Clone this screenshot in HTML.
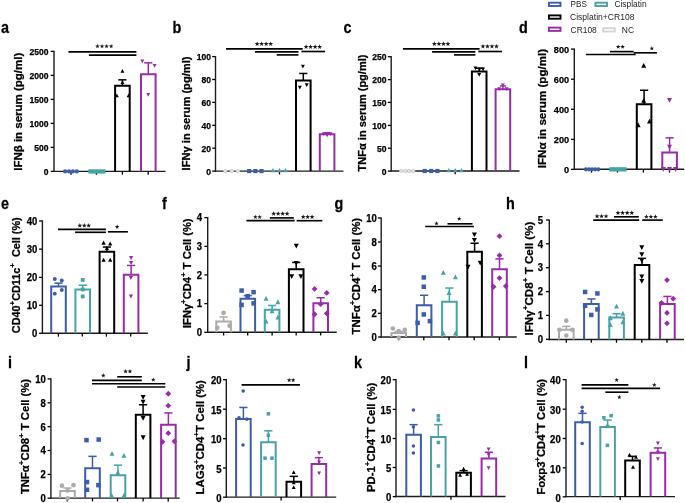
<!DOCTYPE html>
<html><head><meta charset="utf-8"><style>
html,body{margin:0;padding:0;background:#fff;overflow:hidden;}
svg{display:block;will-change:transform;}
text{font-family:"Liberation Sans",sans-serif;fill:#000;stroke:#000;stroke-width:0.25px;}
</style></head><body>
<svg width="685" height="503" viewBox="0 0 685 503">
<rect width="685" height="503" fill="#fff"/>
<text transform="translate(0.9 32.6) scale(0.96 1.06)" font-size="15" font-weight="bold">a</text>
<text transform="translate(21.6 111.75) rotate(-90)" x="0" y="0" font-size="10.0" font-weight="bold" text-anchor="middle" xml:space="preserve" textLength="118.1" lengthAdjust="spacingAndGlyphs">IFNβ in serum (pg/ml)</text>
<line x1="50.7" y1="51.4" x2="54" y2="51.4" stroke="#000000" stroke-width="1.3"/>
<text x="48.6" y="54.97" font-size="8.8" text-anchor="end" font-weight="bold" textLength="19" lengthAdjust="spacingAndGlyphs">2500</text>
<line x1="50.7" y1="75.4" x2="54" y2="75.4" stroke="#000000" stroke-width="1.3"/>
<text x="48.6" y="78.97" font-size="8.8" text-anchor="end" font-weight="bold" textLength="19" lengthAdjust="spacingAndGlyphs">2000</text>
<line x1="50.7" y1="99.4" x2="54" y2="99.4" stroke="#000000" stroke-width="1.3"/>
<text x="48.6" y="102.97" font-size="8.8" text-anchor="end" font-weight="bold" textLength="19" lengthAdjust="spacingAndGlyphs">1500</text>
<line x1="50.7" y1="123.4" x2="54" y2="123.4" stroke="#000000" stroke-width="1.3"/>
<text x="48.6" y="126.97" font-size="8.8" text-anchor="end" font-weight="bold" textLength="19" lengthAdjust="spacingAndGlyphs">1000</text>
<line x1="50.7" y1="147.4" x2="54" y2="147.4" stroke="#000000" stroke-width="1.3"/>
<text x="48.6" y="150.97" font-size="8.8" text-anchor="end" font-weight="bold" textLength="14.25" lengthAdjust="spacingAndGlyphs">500</text>
<line x1="50.7" y1="171.4" x2="54" y2="171.4" stroke="#000000" stroke-width="1.3"/>
<text x="48.6" y="174.97" font-size="8.8" text-anchor="end" font-weight="bold" textLength="4.75" lengthAdjust="spacingAndGlyphs">0</text>
<line x1="54" y1="50.8" x2="54" y2="172.1" stroke="#1c1c1c" stroke-width="1.4"/>
<line x1="53.3" y1="171.4" x2="165.5" y2="171.4" stroke="#1c1c1c" stroke-width="1.4"/>
<line x1="71" y1="171.4" x2="71" y2="174.7" stroke="#000000" stroke-width="1.3"/>
<line x1="96.4" y1="171.4" x2="96.4" y2="174.7" stroke="#000000" stroke-width="1.3"/>
<line x1="122.4" y1="171.4" x2="122.4" y2="174.7" stroke="#000000" stroke-width="1.3"/>
<line x1="148.2" y1="171.4" x2="148.2" y2="174.7" stroke="#000000" stroke-width="1.3"/>
<circle cx="65.1" cy="171.4" r="2.1" fill="#3d5daa"/>
<circle cx="69.0" cy="171.4" r="2.1" fill="#3d5daa"/>
<circle cx="72.9" cy="171.4" r="2.1" fill="#3d5daa"/>
<circle cx="76.8" cy="171.4" r="2.1" fill="#3d5daa"/>
<rect x="88.4" y="169.3" width="17.1" height="4.3" fill="#46a3a8"/>
<path d="M115.1 171.4V85.75H129.7V171.4" fill="none" stroke="#000000" stroke-width="2.0" stroke-linejoin="miter"/>
<line x1="122.4" y1="85.75" x2="122.4" y2="79.85" stroke="#000000" stroke-width="1.5"/>
<line x1="118.3" y1="79.85" x2="126.5" y2="79.85" stroke="#000000" stroke-width="1.5"/>
<path d="M122.4 68.9L124.35 72.65L120.45 72.65Z" fill="#000000"/>
<path d="M116.8 93.4L118.75 97.15L114.85 97.15Z" fill="#000000"/>
<path d="M128.6 93.4L130.55 97.15L126.65 97.15Z" fill="#000000"/>
<path d="M122.4 80.2L124.35 83.95L120.45 83.95Z" fill="#000000"/>
<path d="M141 171.4V74.25H155.6V171.4" fill="none" stroke="#992ba9" stroke-width="2.0" stroke-linejoin="miter"/>
<line x1="148.3" y1="74.25" x2="148.3" y2="62.85" stroke="#992ba9" stroke-width="1.5"/>
<line x1="144.2" y1="62.85" x2="152.4" y2="62.85" stroke="#992ba9" stroke-width="1.5"/>
<path d="M142.3 63.2L144.25 59.45L140.35 59.45Z" fill="#992ba9"/>
<path d="M154.6 67.7L156.55 63.95L152.65 63.95Z" fill="#992ba9"/>
<path d="M148.2 96.7L150.15 92.95L146.25 92.95Z" fill="#992ba9"/>
<line x1="68.4" y1="51.9" x2="136.4" y2="51.9" stroke="#000000" stroke-width="1.65"/>
<line x1="88.9" y1="55.1" x2="136.4" y2="55.1" stroke="#000000" stroke-width="1.65"/>
<polygon points="97.48,44 98.06,45.55 99.71,45.62 98.41,46.65 98.86,48.25 97.48,47.34 96.09,48.25 96.54,46.65 95.24,45.62 96.89,45.55" fill="#1a1a1a"/>
<polygon points="102.03,44 102.61,45.55 104.26,45.62 102.96,46.65 103.41,48.25 102.03,47.34 100.64,48.25 101.09,46.65 99.79,45.62 101.44,45.55" fill="#1a1a1a"/>
<polygon points="106.58,44 107.16,45.55 108.81,45.62 107.51,46.65 107.96,48.25 106.58,47.34 105.19,48.25 105.64,46.65 104.34,45.62 105.99,45.55" fill="#1a1a1a"/>
<polygon points="111.12,44 111.71,45.55 113.36,45.62 112.06,46.65 112.51,48.25 111.12,47.34 109.74,48.25 110.19,46.65 108.89,45.62 110.54,45.55" fill="#1a1a1a"/>
<text transform="translate(172.4 33) scale(0.96 1.06)" font-size="15" font-weight="bold">b</text>
<text transform="translate(190 113.45) rotate(-90)" x="0" y="0" font-size="10.0" font-weight="bold" text-anchor="middle" xml:space="preserve" textLength="113.9" lengthAdjust="spacingAndGlyphs">IFNγ in serum (pg/ml)</text>
<line x1="212.2" y1="56.6" x2="215.5" y2="56.6" stroke="#000000" stroke-width="1.3"/>
<text x="211" y="60.17" font-size="8.8" text-anchor="end" font-weight="bold" textLength="14.25" lengthAdjust="spacingAndGlyphs">100</text>
<line x1="212.2" y1="79.5" x2="215.5" y2="79.5" stroke="#000000" stroke-width="1.3"/>
<text x="211" y="83.07" font-size="8.8" text-anchor="end" font-weight="bold" textLength="9.5" lengthAdjust="spacingAndGlyphs">80</text>
<line x1="212.2" y1="102.4" x2="215.5" y2="102.4" stroke="#000000" stroke-width="1.3"/>
<text x="211" y="105.97" font-size="8.8" text-anchor="end" font-weight="bold" textLength="9.5" lengthAdjust="spacingAndGlyphs">60</text>
<line x1="212.2" y1="125.3" x2="215.5" y2="125.3" stroke="#000000" stroke-width="1.3"/>
<text x="211" y="128.87" font-size="8.8" text-anchor="end" font-weight="bold" textLength="9.5" lengthAdjust="spacingAndGlyphs">40</text>
<line x1="212.2" y1="148.2" x2="215.5" y2="148.2" stroke="#000000" stroke-width="1.3"/>
<text x="211" y="151.77" font-size="8.8" text-anchor="end" font-weight="bold" textLength="9.5" lengthAdjust="spacingAndGlyphs">20</text>
<line x1="212.2" y1="171.1" x2="215.5" y2="171.1" stroke="#000000" stroke-width="1.3"/>
<text x="211" y="174.67" font-size="8.8" text-anchor="end" font-weight="bold" textLength="4.75" lengthAdjust="spacingAndGlyphs">0</text>
<line x1="215.5" y1="56" x2="215.5" y2="171.8" stroke="#1c1c1c" stroke-width="1.4"/>
<line x1="214.8" y1="171.1" x2="343.5" y2="171.1" stroke="#1c1c1c" stroke-width="1.4"/>
<line x1="279.5" y1="171.1" x2="279.5" y2="174.4" stroke="#000000" stroke-width="1.3"/>
<circle cx="225.4" cy="171.1" r="1.8" fill="#e2e2e2" stroke="#cfcfcf" stroke-width="0.8"/>
<circle cx="231.7" cy="171.1" r="1.8" fill="#e2e2e2" stroke="#cfcfcf" stroke-width="0.8"/>
<circle cx="237.8" cy="171.1" r="1.8" fill="#e2e2e2" stroke="#cfcfcf" stroke-width="0.8"/>
<rect x="247.1" y="169" width="4.2" height="4.2" fill="#3d5daa"/>
<rect x="253.3" y="169" width="4.2" height="4.2" fill="#3d5daa"/>
<rect x="259.4" y="169" width="4.2" height="4.2" fill="#3d5daa"/>
<path d="M272.9 168.01L275.15 172.33L270.65 172.33Z" fill="#46a3a8"/>
<path d="M279.5 168.01L281.75 172.33L277.25 172.33Z" fill="#46a3a8"/>
<path d="M285.6 168.01L287.85 172.33L283.35 172.33Z" fill="#46a3a8"/>
<path d="M296 171.1V80.45H310.6V171.1" fill="none" stroke="#000000" stroke-width="2.0" stroke-linejoin="miter"/>
<line x1="303.3" y1="80.45" x2="303.3" y2="73.45" stroke="#000000" stroke-width="1.5"/>
<line x1="299.2" y1="73.45" x2="307.4" y2="73.45" stroke="#000000" stroke-width="1.5"/>
<path d="M302.9 68.6L304.85 64.85L300.95 64.85Z" fill="#000000"/>
<path d="M299.8 89.5L301.75 85.75L297.85 85.75Z" fill="#000000"/>
<path d="M306.7 87L308.65 83.25L304.75 83.25Z" fill="#000000"/>
<path d="M319.8 171.1V134.15H334.4V171.1" fill="none" stroke="#992ba9" stroke-width="2.0" stroke-linejoin="miter"/>
<line x1="327.1" y1="134.15" x2="327.1" y2="132.75" stroke="#992ba9" stroke-width="1.5"/>
<line x1="324.1" y1="132.75" x2="330.1" y2="132.75" stroke="#992ba9" stroke-width="1.5"/>
<path d="M323.8 135.9L325.75 132.15L321.85 132.15Z" fill="#992ba9"/>
<path d="M327.1 137.2L329.05 133.45L325.15 133.45Z" fill="#992ba9"/>
<path d="M330.4 135.9L332.35 132.15L328.45 132.15Z" fill="#992ba9"/>
<line x1="226" y1="48.9" x2="302.7" y2="48.9" stroke="#000000" stroke-width="1.65"/>
<line x1="254.9" y1="51.9" x2="298.5" y2="51.9" stroke="#000000" stroke-width="1.65"/>
<line x1="276.7" y1="54.9" x2="298.5" y2="54.9" stroke="#000000" stroke-width="1.65"/>
<line x1="301.4" y1="51.5" x2="325.1" y2="51.5" stroke="#000000" stroke-width="1.65"/>
<polygon points="257.15,41.38 257.77,43.04 259.55,43.12 258.16,44.23 258.63,45.94 257.15,44.96 255.67,45.94 256.14,44.23 254.75,43.12 256.53,43.04" fill="#1a1a1a"/>
<polygon points="261.65,41.38 262.27,43.04 264.05,43.12 262.66,44.23 263.13,45.94 261.65,44.96 260.17,45.94 260.64,44.23 259.25,43.12 261.03,43.04" fill="#1a1a1a"/>
<polygon points="266.15,41.38 266.77,43.04 268.55,43.12 267.16,44.23 267.63,45.94 266.15,44.96 264.67,45.94 265.14,44.23 263.75,43.12 265.53,43.04" fill="#1a1a1a"/>
<polygon points="270.65,41.38 271.27,43.04 273.05,43.12 271.66,44.23 272.13,45.94 270.65,44.96 269.17,45.94 269.64,44.23 268.25,43.12 270.03,43.04" fill="#1a1a1a"/>
<polygon points="306.06,44.37 306.69,46.04 308.47,46.12 307.07,47.23 307.55,48.95 306.06,47.96 304.57,48.95 305.05,47.23 303.65,46.12 305.44,46.04" fill="#1a1a1a"/>
<polygon points="310.59,44.37 311.21,46.04 313,46.12 311.6,47.23 312.08,48.95 310.59,47.96 309.1,48.95 309.58,47.23 308.18,46.12 309.96,46.04" fill="#1a1a1a"/>
<polygon points="315.11,44.37 315.74,46.04 317.52,46.12 316.12,47.23 316.6,48.95 315.11,47.96 313.62,48.95 314.1,47.23 312.7,46.12 314.49,46.04" fill="#1a1a1a"/>
<polygon points="319.64,44.37 320.26,46.04 322.05,46.12 320.65,47.23 321.13,48.95 319.64,47.96 318.15,48.95 318.63,47.23 317.23,46.12 319.01,46.04" fill="#1a1a1a"/>
<text transform="translate(343.5 33) scale(0.96 1.06)" font-size="15" font-weight="bold">c</text>
<text transform="translate(366 113) rotate(-90)" x="0" y="0" font-size="10.0" font-weight="bold" text-anchor="middle" xml:space="preserve" textLength="116.8" lengthAdjust="spacingAndGlyphs">TNFα in serum (pg/ml)</text>
<line x1="387.9" y1="56.7" x2="391.2" y2="56.7" stroke="#000000" stroke-width="1.3"/>
<text x="386.6" y="60.27" font-size="8.8" text-anchor="end" font-weight="bold" textLength="14.25" lengthAdjust="spacingAndGlyphs">250</text>
<line x1="387.9" y1="79.6" x2="391.2" y2="79.6" stroke="#000000" stroke-width="1.3"/>
<text x="386.6" y="83.17" font-size="8.8" text-anchor="end" font-weight="bold" textLength="14.25" lengthAdjust="spacingAndGlyphs">200</text>
<line x1="387.9" y1="102.4" x2="391.2" y2="102.4" stroke="#000000" stroke-width="1.3"/>
<text x="386.6" y="105.97" font-size="8.8" text-anchor="end" font-weight="bold" textLength="14.25" lengthAdjust="spacingAndGlyphs">150</text>
<line x1="387.9" y1="125.4" x2="391.2" y2="125.4" stroke="#000000" stroke-width="1.3"/>
<text x="386.6" y="128.97" font-size="8.8" text-anchor="end" font-weight="bold" textLength="14.25" lengthAdjust="spacingAndGlyphs">100</text>
<line x1="387.9" y1="148.2" x2="391.2" y2="148.2" stroke="#000000" stroke-width="1.3"/>
<text x="386.6" y="151.77" font-size="8.8" text-anchor="end" font-weight="bold" textLength="9.5" lengthAdjust="spacingAndGlyphs">50</text>
<line x1="387.9" y1="171.1" x2="391.2" y2="171.1" stroke="#000000" stroke-width="1.3"/>
<text x="386.6" y="174.67" font-size="8.8" text-anchor="end" font-weight="bold" textLength="4.75" lengthAdjust="spacingAndGlyphs">0</text>
<line x1="391.2" y1="56.1" x2="391.2" y2="171.7" stroke="#1c1c1c" stroke-width="1.4"/>
<line x1="390.5" y1="171" x2="519.5" y2="171" stroke="#1c1c1c" stroke-width="1.4"/>
<line x1="455.2" y1="171" x2="455.2" y2="174.3" stroke="#000000" stroke-width="1.3"/>
<circle cx="401.3" cy="171" r="1.8" fill="#e2e2e2" stroke="#cfcfcf" stroke-width="0.8"/>
<circle cx="405.2" cy="171" r="1.8" fill="#e2e2e2" stroke="#cfcfcf" stroke-width="0.8"/>
<circle cx="409.3" cy="171" r="1.8" fill="#e2e2e2" stroke="#cfcfcf" stroke-width="0.8"/>
<circle cx="413.2" cy="171" r="1.8" fill="#e2e2e2" stroke="#cfcfcf" stroke-width="0.8"/>
<rect x="422.59999999999997" y="168.9" width="4.2" height="4.2" fill="#3d5daa"/>
<rect x="429.09999999999997" y="168.9" width="4.2" height="4.2" fill="#3d5daa"/>
<rect x="435.29999999999995" y="168.9" width="4.2" height="4.2" fill="#3d5daa"/>
<path d="M448.8 167.91L451.05 172.23L446.55 172.23Z" fill="#46a3a8"/>
<path d="M455.1 167.91L457.35 172.23L452.85 172.23Z" fill="#46a3a8"/>
<path d="M461.5 167.91L463.75 172.23L459.25 172.23Z" fill="#46a3a8"/>
<path d="M471.9 171V71.55H486.5V171" fill="none" stroke="#000000" stroke-width="2.0" stroke-linejoin="miter"/>
<line x1="479.2" y1="71.55" x2="479.2" y2="68.25" stroke="#000000" stroke-width="1.5"/>
<line x1="475.1" y1="68.25" x2="483.3" y2="68.25" stroke="#000000" stroke-width="1.5"/>
<path d="M475.5 70.3L477.45 66.55L473.55 66.55Z" fill="#000000"/>
<path d="M479.5 71.2L481.45 67.45L477.55 67.45Z" fill="#000000"/>
<path d="M483 71.2L484.95 67.45L481.05 67.45Z" fill="#000000"/>
<path d="M479.2 76.7L481.15 72.95L477.25 72.95Z" fill="#000000"/>
<path d="M495.6 171V89.15H510.2V171" fill="none" stroke="#992ba9" stroke-width="2.0" stroke-linejoin="miter"/>
<line x1="502.9" y1="89.15" x2="502.9" y2="85.95" stroke="#992ba9" stroke-width="1.5"/>
<line x1="499.9" y1="85.95" x2="505.9" y2="85.95" stroke="#992ba9" stroke-width="1.5"/>
<path d="M499.2 90.9L501.15 87.15L497.25 87.15Z" fill="#992ba9"/>
<path d="M502.9 87.2L504.85 83.45L500.95 83.45Z" fill="#992ba9"/>
<path d="M506.6 90.9L508.55 87.15L504.65 87.15Z" fill="#992ba9"/>
<line x1="402.9" y1="48.9" x2="479.6" y2="48.9" stroke="#000000" stroke-width="1.65"/>
<line x1="432.1" y1="51.9" x2="475.4" y2="51.9" stroke="#000000" stroke-width="1.65"/>
<line x1="454" y1="54.9" x2="475.4" y2="54.9" stroke="#000000" stroke-width="1.65"/>
<line x1="478.3" y1="51.5" x2="502" y2="51.5" stroke="#000000" stroke-width="1.65"/>
<polygon points="434.36,41.37 434.99,43.04 436.77,43.12 435.37,44.23 435.85,45.95 434.36,44.96 432.87,45.95 433.35,44.23 431.95,43.12 433.74,43.04" fill="#1a1a1a"/>
<polygon points="438.89,41.37 439.51,43.04 441.3,43.12 439.9,44.23 440.38,45.95 438.89,44.96 437.4,45.95 437.88,44.23 436.48,43.12 438.26,43.04" fill="#1a1a1a"/>
<polygon points="443.41,41.37 444.04,43.04 445.82,43.12 444.42,44.23 444.9,45.95 443.41,44.96 441.92,45.95 442.4,44.23 441,43.12 442.79,43.04" fill="#1a1a1a"/>
<polygon points="447.94,41.37 448.56,43.04 450.35,43.12 448.95,44.23 449.43,45.95 447.94,44.96 446.45,45.95 446.93,44.23 445.53,43.12 447.31,43.04" fill="#1a1a1a"/>
<polygon points="482.95,43.88 483.57,45.54 485.35,45.62 483.96,46.73 484.43,48.44 482.95,47.46 481.47,48.44 481.94,46.73 480.55,45.62 482.33,45.54" fill="#1a1a1a"/>
<polygon points="487.45,43.88 488.07,45.54 489.85,45.62 488.46,46.73 488.93,48.44 487.45,47.46 485.97,48.44 486.44,46.73 485.05,45.62 486.83,45.54" fill="#1a1a1a"/>
<polygon points="491.95,43.88 492.57,45.54 494.35,45.62 492.96,46.73 493.43,48.44 491.95,47.46 490.47,48.44 490.94,46.73 489.55,45.62 491.33,45.54" fill="#1a1a1a"/>
<polygon points="496.45,43.88 497.07,45.54 498.85,45.62 497.46,46.73 497.93,48.44 496.45,47.46 494.97,48.44 495.44,46.73 494.05,45.62 495.83,45.54" fill="#1a1a1a"/>
<text transform="translate(518.9 32.6) scale(0.96 1.06)" font-size="15" font-weight="bold">d</text>
<text transform="translate(546 108.55) rotate(-90)" x="0" y="0" font-size="10.0" font-weight="bold" text-anchor="middle" xml:space="preserve" textLength="119.3" lengthAdjust="spacingAndGlyphs">IFNα in serum (pg/ml)</text>
<line x1="571" y1="49.1" x2="574.3" y2="49.1" stroke="#000000" stroke-width="1.3"/>
<text x="569.1" y="52.85" font-size="9.3" text-anchor="end" font-weight="bold" textLength="15.3" lengthAdjust="spacingAndGlyphs">800</text>
<line x1="571" y1="79.2" x2="574.3" y2="79.2" stroke="#000000" stroke-width="1.3"/>
<text x="569.1" y="82.95" font-size="9.3" text-anchor="end" font-weight="bold" textLength="15.3" lengthAdjust="spacingAndGlyphs">600</text>
<line x1="571" y1="109.3" x2="574.3" y2="109.3" stroke="#000000" stroke-width="1.3"/>
<text x="569.1" y="113.05" font-size="9.3" text-anchor="end" font-weight="bold" textLength="15.3" lengthAdjust="spacingAndGlyphs">400</text>
<line x1="571" y1="139.4" x2="574.3" y2="139.4" stroke="#000000" stroke-width="1.3"/>
<text x="569.1" y="143.15" font-size="9.3" text-anchor="end" font-weight="bold" textLength="15.3" lengthAdjust="spacingAndGlyphs">200</text>
<line x1="571" y1="169.4" x2="574.3" y2="169.4" stroke="#000000" stroke-width="1.3"/>
<text x="569.1" y="173.15" font-size="9.3" text-anchor="end" font-weight="bold" textLength="5.1" lengthAdjust="spacingAndGlyphs">0</text>
<line x1="574.3" y1="48.5" x2="574.3" y2="170" stroke="#1c1c1c" stroke-width="1.4"/>
<line x1="573.6" y1="169.3" x2="684.2" y2="169.3" stroke="#1c1c1c" stroke-width="1.4"/>
<line x1="591.5" y1="169.3" x2="591.5" y2="172.6" stroke="#000000" stroke-width="1.3"/>
<line x1="617.5" y1="169.3" x2="617.5" y2="172.6" stroke="#000000" stroke-width="1.3"/>
<line x1="643.4" y1="169.3" x2="643.4" y2="172.6" stroke="#000000" stroke-width="1.3"/>
<line x1="669.5" y1="169.3" x2="669.5" y2="172.6" stroke="#000000" stroke-width="1.3"/>
<circle cx="585.9" cy="169.3" r="2.1" fill="#3d5daa"/>
<circle cx="589.0" cy="169.3" r="2.1" fill="#3d5daa"/>
<circle cx="592.1" cy="169.3" r="2.1" fill="#3d5daa"/>
<circle cx="595.2" cy="169.3" r="2.1" fill="#3d5daa"/>
<circle cx="598.3" cy="169.3" r="2.1" fill="#3d5daa"/>
<rect x="609.3" y="167.2" width="17.2" height="4.3" fill="#46a3a8"/>
<path d="M636.8 169.3V104.35H651.4V169.3" fill="none" stroke="#000000" stroke-width="2.0" stroke-linejoin="miter"/>
<line x1="644.1" y1="104.35" x2="644.1" y2="90.25" stroke="#000000" stroke-width="1.5"/>
<line x1="640" y1="90.25" x2="648.2" y2="90.25" stroke="#000000" stroke-width="1.5"/>
<path d="M643.7 62.97L646.2 67.77L641.2 67.77Z" fill="#000000"/>
<path d="M638.1 122.37L640.6 127.17L635.6 127.17Z" fill="#000000"/>
<path d="M649.5 118.77L652 123.57L647 123.57Z" fill="#000000"/>
<path d="M643.7 98.07L646.2 102.87L641.2 102.87Z" fill="#000000"/>
<path d="M662.3 169.3V152.45H676.9V169.3" fill="none" stroke="#992ba9" stroke-width="2.0" stroke-linejoin="miter"/>
<line x1="669.6" y1="152.45" x2="669.6" y2="137.85" stroke="#992ba9" stroke-width="1.5"/>
<line x1="665.5" y1="137.85" x2="673.7" y2="137.85" stroke="#992ba9" stroke-width="1.5"/>
<path d="M669.5 102.73L672 97.93L667 97.93Z" fill="#992ba9"/>
<path d="M669.5 149.53L672 144.73L667 144.73Z" fill="#992ba9"/>
<path d="M663.4 171.73L665.9 166.93L660.9 166.93Z" fill="#992ba9"/>
<path d="M669.5 171.73L672 166.93L667 166.93Z" fill="#992ba9"/>
<path d="M675.6 171.73L678.1 166.93L673.1 166.93Z" fill="#992ba9"/>
<line x1="585.9" y1="54.5" x2="635.7" y2="54.5" stroke="#000000" stroke-width="1.65"/>
<line x1="610" y1="51.6" x2="633.6" y2="51.6" stroke="#000000" stroke-width="1.65"/>
<line x1="633.6" y1="52.8" x2="656.9" y2="52.8" stroke="#000000" stroke-width="1.65"/>
<polygon points="618.2,44.47 618.79,46.04 620.46,46.11 619.15,47.16 619.6,48.78 618.2,47.85 616.8,48.78 617.25,47.16 615.94,46.11 617.61,46.04" fill="#1a1a1a"/>
<polygon points="622.6,44.47 623.19,46.04 624.86,46.11 623.55,47.16 624,48.78 622.6,47.85 621.2,48.78 621.65,47.16 620.34,46.11 622.01,46.04" fill="#1a1a1a"/>
<polygon points="651.85,46.1 652.43,47.65 654.08,47.72 652.79,48.75 653.23,50.35 651.85,49.44 650.47,50.35 650.91,48.75 649.62,47.72 651.27,47.65" fill="#1a1a1a"/>
<rect x="548.9" y="2.7" width="11.6" height="3.3" fill="#fff" stroke="#3d5daa" stroke-width="1.9"/>
<text x="570.6" y="7.3" font-size="8.8" style="fill:#1e1e1e;stroke:none" textLength="16.3" lengthAdjust="spacingAndGlyphs">PBS</text>
<rect x="595.4" y="2.7" width="11.6" height="3.3" fill="#fff" stroke="#46a3a8" stroke-width="1.9"/>
<text x="614.4" y="7.3" font-size="8.8" style="fill:#1e1e1e;stroke:none" textLength="32.2" lengthAdjust="spacingAndGlyphs">Cisplatin</text>
<rect x="548.9" y="15.4" width="11.6" height="3.3" fill="#fff" stroke="#000000" stroke-width="1.9"/>
<text x="570.0" y="20.0" font-size="8.8" style="fill:#1e1e1e;stroke:none" textLength="64.4" lengthAdjust="spacingAndGlyphs">Cisplatin+CR108</text>
<rect x="548.9" y="27.6" width="11.6" height="3.3" fill="#fff" stroke="#992ba9" stroke-width="1.9"/>
<text x="570.6" y="32.6" font-size="8.8" style="fill:#1e1e1e;stroke:none" textLength="26.2" lengthAdjust="spacingAndGlyphs">CR108</text>
<rect x="603.2" y="28.2" width="11.6" height="3.3" fill="#fff" stroke="#d4d4d4" stroke-width="1.9"/>
<text x="621.8" y="32.6" font-size="8.8" style="fill:#1e1e1e;stroke:none" textLength="12.2" lengthAdjust="spacingAndGlyphs">NC</text>
<text transform="translate(0.9 209) scale(0.96 1.06)" font-size="15" font-weight="bold">e</text>
<text transform="translate(20.3 275.25) rotate(-90)" x="0" y="0" font-size="10.0" font-weight="bold" text-anchor="middle" xml:space="preserve" textLength="115.9" lengthAdjust="spacingAndGlyphs">CD40<tspan font-size="7.2" dy="-5">+</tspan><tspan dy="5">​</tspan>CD11c<tspan font-size="7.2" dy="-5">+</tspan><tspan dy="5">​</tspan>  Cell (%)</text>
<line x1="39.1" y1="221" x2="42.4" y2="221" stroke="#000000" stroke-width="1.3"/>
<text x="37.4" y="224.7" font-size="10.0" text-anchor="end" font-weight="bold" textLength="10.6" lengthAdjust="spacingAndGlyphs">40</text>
<line x1="39.1" y1="249.1" x2="42.4" y2="249.1" stroke="#000000" stroke-width="1.3"/>
<text x="37.4" y="252.8" font-size="10.0" text-anchor="end" font-weight="bold" textLength="10.6" lengthAdjust="spacingAndGlyphs">30</text>
<line x1="39.1" y1="277.4" x2="42.4" y2="277.4" stroke="#000000" stroke-width="1.3"/>
<text x="37.4" y="281.1" font-size="10.0" text-anchor="end" font-weight="bold" textLength="10.6" lengthAdjust="spacingAndGlyphs">20</text>
<line x1="39.1" y1="305.3" x2="42.4" y2="305.3" stroke="#000000" stroke-width="1.3"/>
<text x="37.4" y="309" font-size="10.0" text-anchor="end" font-weight="bold" textLength="10.6" lengthAdjust="spacingAndGlyphs">10</text>
<line x1="39.1" y1="333.3" x2="42.4" y2="333.3" stroke="#000000" stroke-width="1.3"/>
<text x="37.4" y="337" font-size="10.0" text-anchor="end" font-weight="bold" textLength="5.3" lengthAdjust="spacingAndGlyphs">0</text>
<line x1="42.4" y1="220.4" x2="42.4" y2="334" stroke="#1c1c1c" stroke-width="1.4"/>
<line x1="41.7" y1="333.3" x2="147.8" y2="333.3" stroke="#1c1c1c" stroke-width="1.4"/>
<line x1="58.4" y1="333.3" x2="58.4" y2="336.6" stroke="#000000" stroke-width="1.3"/>
<line x1="82.3" y1="333.3" x2="82.3" y2="336.6" stroke="#000000" stroke-width="1.3"/>
<line x1="106.4" y1="333.3" x2="106.4" y2="336.6" stroke="#000000" stroke-width="1.3"/>
<line x1="130.7" y1="333.3" x2="130.7" y2="336.6" stroke="#000000" stroke-width="1.3"/>
<path d="M51.2 333.3V286.55H65.8V333.3" fill="none" stroke="#3d5daa" stroke-width="2.0" stroke-linejoin="miter"/>
<line x1="58.5" y1="286.55" x2="58.5" y2="283.15" stroke="#3d5daa" stroke-width="1.5"/>
<line x1="54.4" y1="283.15" x2="62.6" y2="283.15" stroke="#3d5daa" stroke-width="1.5"/>
<circle cx="54.8" cy="278.95" r="1.95" fill="#3d5daa"/>
<circle cx="61.8" cy="280.55" r="1.95" fill="#3d5daa"/>
<circle cx="54.8" cy="293.65" r="1.95" fill="#3d5daa"/>
<circle cx="61.8" cy="289.95" r="1.95" fill="#3d5daa"/>
<path d="M75.4 333.3V289.45H90V333.3" fill="none" stroke="#46a3a8" stroke-width="2.0" stroke-linejoin="miter"/>
<line x1="82.7" y1="289.45" x2="82.7" y2="285.25" stroke="#46a3a8" stroke-width="1.5"/>
<line x1="78.6" y1="285.25" x2="86.8" y2="285.25" stroke="#46a3a8" stroke-width="1.5"/>
<rect x="80.79" y="278.04" width="3.8249999999999997" height="3.8249999999999997" fill="#46a3a8"/>
<rect x="80.79" y="287.54" width="3.8249999999999997" height="3.8249999999999997" fill="#46a3a8"/>
<rect x="80.79" y="294.54" width="3.8249999999999997" height="3.8249999999999997" fill="#46a3a8"/>
<path d="M99.6 333.3V251.65H114.2V333.3" fill="none" stroke="#000000" stroke-width="2.0" stroke-linejoin="miter"/>
<line x1="106.9" y1="251.65" x2="106.9" y2="247.05" stroke="#000000" stroke-width="1.5"/>
<line x1="102.8" y1="247.05" x2="111" y2="247.05" stroke="#000000" stroke-width="1.5"/>
<path d="M103.6 240.6L105.72 244.68L101.47 244.68Z" fill="#000000"/>
<path d="M110.2 241.4L112.33 245.48L108.08 245.48Z" fill="#000000"/>
<path d="M103.6 257.7L105.72 261.78L101.47 261.78Z" fill="#000000"/>
<path d="M110.2 257.7L112.33 261.78L108.08 261.78Z" fill="#000000"/>
<path d="M106.9 246L109.03 250.08L104.78 250.08Z" fill="#000000"/>
<path d="M123.8 333.3V274.85H138.4V333.3" fill="none" stroke="#992ba9" stroke-width="2.0" stroke-linejoin="miter"/>
<line x1="131.1" y1="274.85" x2="131.1" y2="265.45" stroke="#992ba9" stroke-width="1.5"/>
<line x1="127" y1="265.45" x2="135.2" y2="265.45" stroke="#992ba9" stroke-width="1.5"/>
<path d="M131.1 260L133.22 255.92L128.97 255.92Z" fill="#992ba9"/>
<path d="M131.1 265.1L133.22 261.02L128.97 261.02Z" fill="#992ba9"/>
<path d="M130.9 280.1L133.03 276.02L128.78 276.02Z" fill="#992ba9"/>
<path d="M130.9 298.5L133.03 294.42L128.78 294.42Z" fill="#992ba9"/>
<line x1="58" y1="229.4" x2="105.9" y2="229.4" stroke="#000000" stroke-width="1.65"/>
<line x1="75.1" y1="232.3" x2="105.9" y2="232.3" stroke="#000000" stroke-width="1.65"/>
<line x1="107.9" y1="231.8" x2="127.9" y2="231.8" stroke="#000000" stroke-width="1.65"/>
<polygon points="79.82,223.12 80.43,224.76 82.18,224.83 80.81,225.92 81.28,227.61 79.82,226.64 78.36,227.61 78.82,225.92 77.46,224.83 79.2,224.76" fill="#1a1a1a"/>
<polygon points="84.25,223.12 84.86,224.76 86.61,224.83 85.24,225.92 85.71,227.61 84.25,226.64 82.79,227.61 83.26,225.92 81.89,224.83 83.64,224.76" fill="#1a1a1a"/>
<polygon points="88.68,223.12 89.3,224.76 91.04,224.83 89.68,225.92 90.14,227.61 88.68,226.64 87.22,227.61 87.69,225.92 86.32,224.83 88.07,224.76" fill="#1a1a1a"/>
<polygon points="117.15,224.55 117.73,226.1 119.38,226.17 118.09,227.2 118.53,228.8 117.15,227.89 115.77,228.8 116.21,227.2 114.92,226.17 116.57,226.1" fill="#1a1a1a"/>
<text transform="translate(161.9 209) scale(0.96 1.06)" font-size="15" font-weight="bold">f</text>
<text transform="translate(190.8 273.25) rotate(-90)" x="0" y="0" font-size="10.0" font-weight="bold" text-anchor="middle" xml:space="preserve" textLength="109.5" lengthAdjust="spacingAndGlyphs">IFNγ<tspan font-size="7.2" dy="-5">+</tspan><tspan dy="5">​</tspan>CD4<tspan font-size="7.2" dy="-5">+</tspan><tspan dy="5">​</tspan> T Cell (%)</text>
<line x1="204.4" y1="217.6" x2="207.7" y2="217.6" stroke="#000000" stroke-width="1.3"/>
<text x="202" y="221.3" font-size="10.0" text-anchor="end" font-weight="bold" textLength="5.3" lengthAdjust="spacingAndGlyphs">4</text>
<line x1="204.4" y1="246.4" x2="207.7" y2="246.4" stroke="#000000" stroke-width="1.3"/>
<text x="202" y="250.1" font-size="10.0" text-anchor="end" font-weight="bold" textLength="5.3" lengthAdjust="spacingAndGlyphs">3</text>
<line x1="204.4" y1="274.9" x2="207.7" y2="274.9" stroke="#000000" stroke-width="1.3"/>
<text x="202" y="278.6" font-size="10.0" text-anchor="end" font-weight="bold" textLength="5.3" lengthAdjust="spacingAndGlyphs">2</text>
<line x1="204.4" y1="303.6" x2="207.7" y2="303.6" stroke="#000000" stroke-width="1.3"/>
<text x="202" y="307.3" font-size="10.0" text-anchor="end" font-weight="bold" textLength="5.3" lengthAdjust="spacingAndGlyphs">1</text>
<line x1="204.4" y1="332.3" x2="207.7" y2="332.3" stroke="#000000" stroke-width="1.3"/>
<text x="202" y="336" font-size="10.0" text-anchor="end" font-weight="bold" textLength="5.3" lengthAdjust="spacingAndGlyphs">0</text>
<line x1="207.7" y1="217" x2="207.7" y2="332.9" stroke="#1c1c1c" stroke-width="1.4"/>
<line x1="207" y1="332.2" x2="336.8" y2="332.2" stroke="#1c1c1c" stroke-width="1.4"/>
<line x1="223.6" y1="332.2" x2="223.6" y2="335.5" stroke="#000000" stroke-width="1.3"/>
<line x1="247.7" y1="332.2" x2="247.7" y2="335.5" stroke="#000000" stroke-width="1.3"/>
<line x1="272.1" y1="332.2" x2="272.1" y2="335.5" stroke="#000000" stroke-width="1.3"/>
<line x1="296.2" y1="332.2" x2="296.2" y2="335.5" stroke="#000000" stroke-width="1.3"/>
<line x1="320.7" y1="332.2" x2="320.7" y2="335.5" stroke="#000000" stroke-width="1.3"/>
<path d="M216.3 332.2V321.55H230.9V332.2" fill="none" stroke="#ababab" stroke-width="2.0" stroke-linejoin="miter"/>
<line x1="223.6" y1="321.55" x2="223.6" y2="316.95" stroke="#ababab" stroke-width="1.5"/>
<line x1="219.5" y1="316.95" x2="227.7" y2="316.95" stroke="#ababab" stroke-width="1.5"/>
<circle cx="223.6" cy="312.85" r="2.3" fill="#ababab"/>
<circle cx="217.4" cy="327.75" r="2.3" fill="#ababab"/>
<circle cx="229.6" cy="325.65" r="2.3" fill="#ababab"/>
<path d="M240.5 332.2V298.85H255.1V332.2" fill="none" stroke="#3d5daa" stroke-width="2.0" stroke-linejoin="miter"/>
<line x1="247.8" y1="298.85" x2="247.8" y2="295.65" stroke="#3d5daa" stroke-width="1.5"/>
<line x1="243.7" y1="295.65" x2="251.9" y2="295.65" stroke="#3d5daa" stroke-width="1.5"/>
<rect x="239.35" y="288.3" width="4.5" height="4.5" fill="#3d5daa"/>
<rect x="251.35" y="289.9" width="4.5" height="4.5" fill="#3d5daa"/>
<rect x="239.35" y="302.7" width="4.5" height="4.5" fill="#3d5daa"/>
<rect x="251.35" y="301.1" width="4.5" height="4.5" fill="#3d5daa"/>
<rect x="245.45" y="293.9" width="4.5" height="4.5" fill="#3d5daa"/>
<path d="M264.8 332.2V309.75H279.4V332.2" fill="none" stroke="#46a3a8" stroke-width="2.0" stroke-linejoin="miter"/>
<line x1="272.1" y1="309.75" x2="272.1" y2="305.45" stroke="#46a3a8" stroke-width="1.5"/>
<line x1="268" y1="305.45" x2="276.2" y2="305.45" stroke="#46a3a8" stroke-width="1.5"/>
<path d="M266.1 295.97L268.6 300.77L263.6 300.77Z" fill="#46a3a8"/>
<path d="M277.9 299.37L280.4 304.17L275.4 304.17Z" fill="#46a3a8"/>
<path d="M266.1 318.67L268.6 323.47L263.6 323.47Z" fill="#46a3a8"/>
<path d="M277.9 314.67L280.4 319.47L275.4 319.47Z" fill="#46a3a8"/>
<path d="M272.1 308.57L274.6 313.37L269.6 313.37Z" fill="#46a3a8"/>
<path d="M288.9 332.2V269.25H303.5V332.2" fill="none" stroke="#000000" stroke-width="2.0" stroke-linejoin="miter"/>
<line x1="296.2" y1="269.25" x2="296.2" y2="262.45" stroke="#000000" stroke-width="1.5"/>
<line x1="292.1" y1="262.45" x2="300.3" y2="262.45" stroke="#000000" stroke-width="1.5"/>
<path d="M296.3 248.43L298.8 243.63L293.8 243.63Z" fill="#000000"/>
<path d="M296.3 265.83L298.8 261.03L293.8 261.03Z" fill="#000000"/>
<path d="M291.7 278.93L294.2 274.13L289.2 274.13Z" fill="#000000"/>
<path d="M300.9 278.93L303.4 274.13L298.4 274.13Z" fill="#000000"/>
<path d="M313.4 332.2V303.35H328V332.2" fill="none" stroke="#992ba9" stroke-width="2.0" stroke-linejoin="miter"/>
<line x1="320.7" y1="303.35" x2="320.7" y2="297.75" stroke="#992ba9" stroke-width="1.5"/>
<line x1="316.6" y1="297.75" x2="324.8" y2="297.75" stroke="#992ba9" stroke-width="1.5"/>
<path d="M314.6 286.05L317.5 288.95L314.6 291.85L311.7 288.95Z" fill="#992ba9"/>
<path d="M326.7 290.05L329.6 292.95L326.7 295.85L323.8 292.95Z" fill="#992ba9"/>
<path d="M314.6 311.35L317.5 314.25L314.6 317.15L311.7 314.25Z" fill="#992ba9"/>
<path d="M326.7 310.55L329.6 313.45L326.7 316.35L323.8 313.45Z" fill="#992ba9"/>
<path d="M320.7 301.25L323.6 304.15L320.7 307.05L317.8 304.15Z" fill="#992ba9"/>
<line x1="246.4" y1="220.6" x2="294.6" y2="220.6" stroke="#000000" stroke-width="1.65"/>
<line x1="269.8" y1="217.9" x2="293.8" y2="217.9" stroke="#000000" stroke-width="1.65"/>
<line x1="296.6" y1="220.7" x2="322.3" y2="220.7" stroke="#000000" stroke-width="1.65"/>
<polygon points="255.4,214.65 255.98,216.2 257.64,216.27 256.34,217.31 256.78,218.9 255.4,217.99 254.02,218.9 254.46,217.31 253.16,216.27 254.82,216.2" fill="#1a1a1a"/>
<polygon points="259.6,214.65 260.18,216.2 261.84,216.27 260.54,217.31 260.98,218.9 259.6,217.99 258.22,218.9 258.66,217.31 257.36,216.27 259.02,216.2" fill="#1a1a1a"/>
<polygon points="273.65,211.18 274.27,212.84 276.05,212.92 274.66,214.03 275.13,215.74 273.65,214.76 272.17,215.74 272.64,214.03 271.25,212.92 273.03,212.84" fill="#1a1a1a"/>
<polygon points="278.15,211.18 278.77,212.84 280.55,212.92 279.16,214.03 279.63,215.74 278.15,214.76 276.67,215.74 277.14,214.03 275.75,212.92 277.53,212.84" fill="#1a1a1a"/>
<polygon points="282.65,211.18 283.27,212.84 285.05,212.92 283.66,214.03 284.13,215.74 282.65,214.76 281.17,215.74 281.64,214.03 280.25,212.92 282.03,212.84" fill="#1a1a1a"/>
<polygon points="287.15,211.18 287.77,212.84 289.55,212.92 288.16,214.03 288.63,215.74 287.15,214.76 285.67,215.74 286.14,214.03 284.75,212.92 286.53,212.84" fill="#1a1a1a"/>
<polygon points="303.22,214.42 303.83,216.06 305.58,216.13 304.21,217.22 304.68,218.91 303.22,217.94 301.76,218.91 302.22,217.22 300.86,216.13 302.6,216.06" fill="#1a1a1a"/>
<polygon points="307.65,214.42 308.26,216.06 310.01,216.13 308.64,217.22 309.11,218.91 307.65,217.94 306.19,218.91 306.66,217.22 305.29,216.13 307.04,216.06" fill="#1a1a1a"/>
<polygon points="312.08,214.42 312.7,216.06 314.44,216.13 313.08,217.22 313.54,218.91 312.08,217.94 310.62,218.91 311.09,217.22 309.72,216.13 311.47,216.06" fill="#1a1a1a"/>
<text transform="translate(334.5 209) scale(0.96 1.06)" font-size="15" font-weight="bold">g</text>
<text transform="translate(359.6 276.15) rotate(-90)" x="0" y="0" font-size="10.0" font-weight="bold" text-anchor="middle" xml:space="preserve" textLength="116.5" lengthAdjust="spacingAndGlyphs">TNFα<tspan font-size="7.2" dy="-5">+</tspan><tspan dy="5">​</tspan>CD4<tspan font-size="7.2" dy="-5">+</tspan><tspan dy="5">​</tspan> T Cell (%)</text>
<line x1="377.9" y1="218" x2="381.2" y2="218" stroke="#000000" stroke-width="1.3"/>
<text x="376.9" y="221.7" font-size="10.0" text-anchor="end" font-weight="bold" textLength="10.6" lengthAdjust="spacingAndGlyphs">10</text>
<line x1="377.9" y1="242" x2="381.2" y2="242" stroke="#000000" stroke-width="1.3"/>
<text x="376.9" y="245.7" font-size="10.0" text-anchor="end" font-weight="bold" textLength="5.3" lengthAdjust="spacingAndGlyphs">8</text>
<line x1="377.9" y1="266" x2="381.2" y2="266" stroke="#000000" stroke-width="1.3"/>
<text x="376.9" y="269.7" font-size="10.0" text-anchor="end" font-weight="bold" textLength="5.3" lengthAdjust="spacingAndGlyphs">6</text>
<line x1="377.9" y1="289.7" x2="381.2" y2="289.7" stroke="#000000" stroke-width="1.3"/>
<text x="376.9" y="293.4" font-size="10.0" text-anchor="end" font-weight="bold" textLength="5.3" lengthAdjust="spacingAndGlyphs">4</text>
<line x1="377.9" y1="313.3" x2="381.2" y2="313.3" stroke="#000000" stroke-width="1.3"/>
<text x="376.9" y="317" font-size="10.0" text-anchor="end" font-weight="bold" textLength="5.3" lengthAdjust="spacingAndGlyphs">2</text>
<line x1="377.9" y1="337" x2="381.2" y2="337" stroke="#000000" stroke-width="1.3"/>
<text x="376.9" y="340.7" font-size="10.0" text-anchor="end" font-weight="bold" textLength="5.3" lengthAdjust="spacingAndGlyphs">0</text>
<line x1="381.2" y1="217.4" x2="381.2" y2="337.7" stroke="#1c1c1c" stroke-width="1.4"/>
<line x1="380.5" y1="337" x2="516.7" y2="337" stroke="#1c1c1c" stroke-width="1.4"/>
<line x1="398.7" y1="337" x2="398.7" y2="340.3" stroke="#000000" stroke-width="1.3"/>
<line x1="423.8" y1="337" x2="423.8" y2="340.3" stroke="#000000" stroke-width="1.3"/>
<line x1="449" y1="337" x2="449" y2="340.3" stroke="#000000" stroke-width="1.3"/>
<line x1="474.2" y1="337" x2="474.2" y2="340.3" stroke="#000000" stroke-width="1.3"/>
<line x1="499.4" y1="337" x2="499.4" y2="340.3" stroke="#000000" stroke-width="1.3"/>
<path d="M391.4 337V333.05H406V337" fill="none" stroke="#ababab" stroke-width="2.0" stroke-linejoin="miter"/>
<line x1="398.7" y1="333.05" x2="398.7" y2="331.45" stroke="#ababab" stroke-width="1.5"/>
<line x1="394.6" y1="331.45" x2="402.8" y2="331.45" stroke="#ababab" stroke-width="1.5"/>
<circle cx="392.8" cy="328.55" r="2.3" fill="#ababab"/>
<circle cx="404.8" cy="329.85" r="2.3" fill="#ababab"/>
<circle cx="398.7" cy="337.85" r="2.3" fill="#ababab"/>
<circle cx="398.7" cy="330.95" r="2.3" fill="#ababab"/>
<path d="M416.8 337V305.15H431.4V337" fill="none" stroke="#3d5daa" stroke-width="2.0" stroke-linejoin="miter"/>
<line x1="424.1" y1="305.15" x2="424.1" y2="295.25" stroke="#3d5daa" stroke-width="1.5"/>
<line x1="420" y1="295.25" x2="428.2" y2="295.25" stroke="#3d5daa" stroke-width="1.5"/>
<rect x="421.55" y="275.2" width="4.5" height="4.5" fill="#3d5daa"/>
<rect x="421.55" y="284.5" width="4.5" height="4.5" fill="#3d5daa"/>
<rect x="421.55" y="312.2" width="4.5" height="4.5" fill="#3d5daa"/>
<rect x="415.35" y="320.6" width="4.5" height="4.5" fill="#3d5daa"/>
<rect x="427.65" y="318.9" width="4.5" height="4.5" fill="#3d5daa"/>
<path d="M442.1 337V301.85H456.7V337" fill="none" stroke="#46a3a8" stroke-width="2.0" stroke-linejoin="miter"/>
<line x1="449.4" y1="301.85" x2="449.4" y2="288.05" stroke="#46a3a8" stroke-width="1.5"/>
<line x1="445.3" y1="288.05" x2="453.5" y2="288.05" stroke="#46a3a8" stroke-width="1.5"/>
<path d="M443.3 270.07L445.8 274.87L440.8 274.87Z" fill="#46a3a8"/>
<path d="M455.4 274.57L457.9 279.37L452.9 279.37Z" fill="#46a3a8"/>
<path d="M449 290.27L451.5 295.07L446.5 295.07Z" fill="#46a3a8"/>
<path d="M443.3 330.77L445.8 335.57L440.8 335.57Z" fill="#46a3a8"/>
<path d="M455.4 330.77L457.9 335.57L452.9 335.57Z" fill="#46a3a8"/>
<path d="M467.3 337V251.65H481.9V337" fill="none" stroke="#000000" stroke-width="2.0" stroke-linejoin="miter"/>
<line x1="474.6" y1="251.65" x2="474.6" y2="243.25" stroke="#000000" stroke-width="1.5"/>
<line x1="470.5" y1="243.25" x2="478.7" y2="243.25" stroke="#000000" stroke-width="1.5"/>
<path d="M474.4 237.23L476.9 232.43L471.9 232.43Z" fill="#000000"/>
<path d="M474.4 242.73L476.9 237.93L471.9 237.93Z" fill="#000000"/>
<path d="M468 269.63L470.5 264.83L465.5 264.83Z" fill="#000000"/>
<path d="M480.2 265.43L482.7 260.63L477.7 260.63Z" fill="#000000"/>
<path d="M492.2 337V269.25H506.8V337" fill="none" stroke="#992ba9" stroke-width="2.0" stroke-linejoin="miter"/>
<line x1="499.5" y1="269.25" x2="499.5" y2="258.85" stroke="#992ba9" stroke-width="1.5"/>
<line x1="495.4" y1="258.85" x2="503.6" y2="258.85" stroke="#992ba9" stroke-width="1.5"/>
<path d="M499.5 233.25L502.4 236.15L499.5 239.05L496.6 236.15Z" fill="#992ba9"/>
<path d="M499.5 252.55L502.4 255.45L499.5 258.35L496.6 255.45Z" fill="#992ba9"/>
<path d="M499.5 275.15L502.4 278.05L499.5 280.95L496.6 278.05Z" fill="#992ba9"/>
<path d="M493.5 283.85L496.4 286.75L493.5 289.65L490.6 286.75Z" fill="#992ba9"/>
<path d="M505.8 283.15L508.7 286.05L505.8 288.95L502.9 286.05Z" fill="#992ba9"/>
<line x1="425.2" y1="226.5" x2="473.9" y2="226.5" stroke="#000000" stroke-width="1.65"/>
<line x1="447.5" y1="223.8" x2="472.5" y2="223.8" stroke="#000000" stroke-width="1.65"/>
<polygon points="436.5,221.1 437.08,222.65 438.74,222.72 437.44,223.76 437.88,225.35 436.5,224.44 435.12,225.35 435.56,223.76 434.26,222.72 435.92,222.65" fill="#1a1a1a"/>
<polygon points="459.2,216.45 459.78,218 461.44,218.07 460.14,219.11 460.58,220.7 459.2,219.79 457.82,220.7 458.26,219.11 456.96,218.07 458.62,218" fill="#1a1a1a"/>
<text transform="translate(506 209) scale(0.96 1.06)" font-size="15" font-weight="bold">h</text>
<text transform="translate(532.6 278.55) rotate(-90)" x="0" y="0" font-size="10.0" font-weight="bold" text-anchor="middle" xml:space="preserve" textLength="113.7" lengthAdjust="spacingAndGlyphs">IFNγ<tspan font-size="7.2" dy="-5">+</tspan><tspan dy="5">​</tspan>CD8<tspan font-size="7.2" dy="-5">+</tspan><tspan dy="5">​</tspan> T Cell (%)</text>
<line x1="546" y1="220" x2="549.3" y2="220" stroke="#000000" stroke-width="1.3"/>
<text x="543.1" y="223.7" font-size="10.0" text-anchor="end" font-weight="bold" textLength="5.3" lengthAdjust="spacingAndGlyphs">5</text>
<line x1="546" y1="243.8" x2="549.3" y2="243.8" stroke="#000000" stroke-width="1.3"/>
<text x="543.1" y="247.5" font-size="10.0" text-anchor="end" font-weight="bold" textLength="5.3" lengthAdjust="spacingAndGlyphs">4</text>
<line x1="546" y1="267.7" x2="549.3" y2="267.7" stroke="#000000" stroke-width="1.3"/>
<text x="543.1" y="271.4" font-size="10.0" text-anchor="end" font-weight="bold" textLength="5.3" lengthAdjust="spacingAndGlyphs">3</text>
<line x1="546" y1="291.6" x2="549.3" y2="291.6" stroke="#000000" stroke-width="1.3"/>
<text x="543.1" y="295.3" font-size="10.0" text-anchor="end" font-weight="bold" textLength="5.3" lengthAdjust="spacingAndGlyphs">2</text>
<line x1="546" y1="315.4" x2="549.3" y2="315.4" stroke="#000000" stroke-width="1.3"/>
<text x="543.1" y="319.1" font-size="10.0" text-anchor="end" font-weight="bold" textLength="5.3" lengthAdjust="spacingAndGlyphs">1</text>
<line x1="546" y1="339.3" x2="549.3" y2="339.3" stroke="#000000" stroke-width="1.3"/>
<text x="543.1" y="343" font-size="10.0" text-anchor="end" font-weight="bold" textLength="5.3" lengthAdjust="spacingAndGlyphs">0</text>
<line x1="549.3" y1="219.4" x2="549.3" y2="340.2" stroke="#1c1c1c" stroke-width="1.4"/>
<line x1="548.6" y1="339.5" x2="684" y2="339.5" stroke="#1c1c1c" stroke-width="1.4"/>
<line x1="566.3" y1="339.5" x2="566.3" y2="342.8" stroke="#000000" stroke-width="1.3"/>
<line x1="591.3" y1="339.5" x2="591.3" y2="342.8" stroke="#000000" stroke-width="1.3"/>
<line x1="616.5" y1="339.5" x2="616.5" y2="342.8" stroke="#000000" stroke-width="1.3"/>
<line x1="641.8" y1="339.5" x2="641.8" y2="342.8" stroke="#000000" stroke-width="1.3"/>
<line x1="667" y1="339.5" x2="667" y2="342.8" stroke="#000000" stroke-width="1.3"/>
<path d="M559 339.5V329.85H573.6V339.5" fill="none" stroke="#ababab" stroke-width="2.0" stroke-linejoin="miter"/>
<line x1="566.3" y1="329.85" x2="566.3" y2="326.35" stroke="#ababab" stroke-width="1.5"/>
<line x1="562.2" y1="326.35" x2="570.4" y2="326.35" stroke="#ababab" stroke-width="1.5"/>
<circle cx="566.3" cy="320.65" r="2.3" fill="#ababab"/>
<circle cx="559.4" cy="329.85" r="2.3" fill="#ababab"/>
<circle cx="572.4" cy="329.85" r="2.3" fill="#ababab"/>
<circle cx="566.3" cy="335.45" r="2.3" fill="#ababab"/>
<path d="M584.1 339.5V304.05H598.7V339.5" fill="none" stroke="#3d5daa" stroke-width="2.0" stroke-linejoin="miter"/>
<line x1="591.4" y1="304.05" x2="591.4" y2="298.95" stroke="#3d5daa" stroke-width="1.5"/>
<line x1="587.3" y1="298.95" x2="595.5" y2="298.95" stroke="#3d5daa" stroke-width="1.5"/>
<rect x="582.85" y="289.7" width="4.5" height="4.5" fill="#3d5daa"/>
<rect x="595.15" y="291.2" width="4.5" height="4.5" fill="#3d5daa"/>
<rect x="582.85" y="303.5" width="4.5" height="4.5" fill="#3d5daa"/>
<rect x="595.15" y="307.2" width="4.5" height="4.5" fill="#3d5daa"/>
<rect x="589.05" y="312.7" width="4.5" height="4.5" fill="#3d5daa"/>
<path d="M609.3 339.5V317.45H623.9V339.5" fill="none" stroke="#46a3a8" stroke-width="2.0" stroke-linejoin="miter"/>
<line x1="616.6" y1="317.45" x2="616.6" y2="313.75" stroke="#46a3a8" stroke-width="1.5"/>
<line x1="612.5" y1="313.75" x2="620.7" y2="313.75" stroke="#46a3a8" stroke-width="1.5"/>
<path d="M616.5 303.67L619 308.47L614 308.47Z" fill="#46a3a8"/>
<path d="M610.3 315.37L612.8 320.17L607.8 320.17Z" fill="#46a3a8"/>
<path d="M622.9 310.87L625.4 315.67L620.4 315.67Z" fill="#46a3a8"/>
<path d="M610.3 322.17L612.8 326.97L607.8 326.97Z" fill="#46a3a8"/>
<path d="M622.9 319.57L625.4 324.37L620.4 324.37Z" fill="#46a3a8"/>
<path d="M634.7 339.5V265.05H649.3V339.5" fill="none" stroke="#000000" stroke-width="2.0" stroke-linejoin="miter"/>
<line x1="642" y1="265.05" x2="642" y2="258.35" stroke="#000000" stroke-width="1.5"/>
<line x1="637.9" y1="258.35" x2="646.1" y2="258.35" stroke="#000000" stroke-width="1.5"/>
<path d="M641.8 249.93L644.3 245.13L639.3 245.13Z" fill="#000000"/>
<path d="M641.8 257.03L644.3 252.23L639.3 252.23Z" fill="#000000"/>
<path d="M641.8 262.93L644.3 258.13L639.3 258.13Z" fill="#000000"/>
<path d="M641.8 279.23L644.3 274.43L639.3 274.43Z" fill="#000000"/>
<path d="M641.8 283.73L644.3 278.93L639.3 278.93Z" fill="#000000"/>
<path d="M660.1 339.5V304.05H674.7V339.5" fill="none" stroke="#992ba9" stroke-width="2.0" stroke-linejoin="miter"/>
<line x1="667.4" y1="304.05" x2="667.4" y2="296.45" stroke="#992ba9" stroke-width="1.5"/>
<line x1="663.3" y1="296.45" x2="671.5" y2="296.45" stroke="#992ba9" stroke-width="1.5"/>
<path d="M667 277.15L669.9 280.05L667 282.95L664.1 280.05Z" fill="#992ba9"/>
<path d="M673.2 295.75L676.1 298.65L673.2 301.55L670.3 298.65Z" fill="#992ba9"/>
<path d="M661.5 299.95L664.4 302.85L661.5 305.75L658.6 302.85Z" fill="#992ba9"/>
<path d="M667 310.05L669.9 312.95L667 315.85L664.1 312.95Z" fill="#992ba9"/>
<path d="M667 320.45L669.9 323.35L667 326.25L664.1 323.35Z" fill="#992ba9"/>
<line x1="593.2" y1="220.1" x2="639.2" y2="220.1" stroke="#000000" stroke-width="1.65"/>
<line x1="614" y1="216.8" x2="638.8" y2="216.8" stroke="#000000" stroke-width="1.65"/>
<line x1="642.2" y1="220.1" x2="662.8" y2="220.1" stroke="#000000" stroke-width="1.65"/>
<polygon points="597.05,213.78 597.67,215.44 599.45,215.52 598.06,216.63 598.53,218.34 597.05,217.36 595.57,218.34 596.04,216.63 594.65,215.52 596.43,215.44" fill="#1a1a1a"/>
<polygon points="601.55,213.78 602.17,215.44 603.95,215.52 602.56,216.63 603.03,218.34 601.55,217.36 600.07,218.34 600.54,216.63 599.15,215.52 600.93,215.44" fill="#1a1a1a"/>
<polygon points="606.05,213.78 606.67,215.44 608.45,215.52 607.06,216.63 607.53,218.34 606.05,217.36 604.57,218.34 605.04,216.63 603.65,215.52 605.43,215.44" fill="#1a1a1a"/>
<polygon points="618,210.37 618.64,212.07 620.45,212.15 619.03,213.28 619.51,215.03 618,214.03 616.49,215.03 616.97,213.28 615.55,212.15 617.36,212.07" fill="#1a1a1a"/>
<polygon points="622.6,210.37 623.24,212.07 625.05,212.15 623.63,213.28 624.11,215.03 622.6,214.03 621.09,215.03 621.57,213.28 620.15,212.15 621.96,212.07" fill="#1a1a1a"/>
<polygon points="627.2,210.37 627.84,212.07 629.65,212.15 628.23,213.28 628.71,215.03 627.2,214.03 625.69,215.03 626.17,213.28 624.75,212.15 626.56,212.07" fill="#1a1a1a"/>
<polygon points="631.8,210.37 632.44,212.07 634.25,212.15 632.83,213.28 633.31,215.03 631.8,214.03 630.29,215.03 630.77,213.28 629.35,212.15 631.16,212.07" fill="#1a1a1a"/>
<polygon points="646.43,214.25 647.05,215.9 648.81,215.98 647.43,217.07 647.9,218.77 646.43,217.8 644.96,218.77 645.43,217.07 644.05,215.98 645.82,215.9" fill="#1a1a1a"/>
<polygon points="650.9,214.25 651.52,215.9 653.28,215.98 651.9,217.07 652.37,218.77 650.9,217.8 649.43,218.77 649.9,217.07 648.52,215.98 650.28,215.9" fill="#1a1a1a"/>
<polygon points="655.37,214.25 655.98,215.9 657.75,215.98 656.37,217.07 656.84,218.77 655.37,217.8 653.9,218.77 654.37,217.07 652.99,215.98 654.75,215.9" fill="#1a1a1a"/>
<text transform="translate(8 367.8) scale(0.96 1.06)" font-size="15" font-weight="bold">i</text>
<text transform="translate(29 436.45) rotate(-90)" x="0" y="0" font-size="10.0" font-weight="bold" text-anchor="middle" xml:space="preserve" textLength="115.1" lengthAdjust="spacingAndGlyphs">TNFα<tspan font-size="7.2" dy="-5">+</tspan><tspan dy="5">​</tspan>CD8<tspan font-size="7.2" dy="-5">+</tspan><tspan dy="5">​</tspan> T Cell (%)</text>
<line x1="47.6" y1="378.9" x2="50.9" y2="378.9" stroke="#000000" stroke-width="1.3"/>
<text x="45.9" y="382.7" font-size="10.0" text-anchor="end" font-weight="bold" textLength="10.6" lengthAdjust="spacingAndGlyphs">10</text>
<line x1="47.6" y1="402.8" x2="50.9" y2="402.8" stroke="#000000" stroke-width="1.3"/>
<text x="45.9" y="406.6" font-size="10.0" text-anchor="end" font-weight="bold" textLength="5.3" lengthAdjust="spacingAndGlyphs">8</text>
<line x1="47.6" y1="426.7" x2="50.9" y2="426.7" stroke="#000000" stroke-width="1.3"/>
<text x="45.9" y="430.5" font-size="10.0" text-anchor="end" font-weight="bold" textLength="5.3" lengthAdjust="spacingAndGlyphs">6</text>
<line x1="47.6" y1="450.5" x2="50.9" y2="450.5" stroke="#000000" stroke-width="1.3"/>
<text x="45.9" y="454.3" font-size="10.0" text-anchor="end" font-weight="bold" textLength="5.3" lengthAdjust="spacingAndGlyphs">4</text>
<line x1="47.6" y1="474.4" x2="50.9" y2="474.4" stroke="#000000" stroke-width="1.3"/>
<text x="45.9" y="478.2" font-size="10.0" text-anchor="end" font-weight="bold" textLength="5.3" lengthAdjust="spacingAndGlyphs">2</text>
<line x1="47.6" y1="498.2" x2="50.9" y2="498.2" stroke="#000000" stroke-width="1.3"/>
<text x="45.9" y="502" font-size="10.0" text-anchor="end" font-weight="bold" textLength="5.3" lengthAdjust="spacingAndGlyphs">0</text>
<line x1="50.9" y1="378.3" x2="50.9" y2="498.8" stroke="#1c1c1c" stroke-width="1.4"/>
<line x1="50.2" y1="498.1" x2="179.7" y2="498.1" stroke="#1c1c1c" stroke-width="1.4"/>
<line x1="67.3" y1="498.1" x2="67.3" y2="501.4" stroke="#000000" stroke-width="1.3"/>
<line x1="92.5" y1="498.1" x2="92.5" y2="501.4" stroke="#000000" stroke-width="1.3"/>
<line x1="117.5" y1="498.1" x2="117.5" y2="501.4" stroke="#000000" stroke-width="1.3"/>
<line x1="143.1" y1="498.1" x2="143.1" y2="501.4" stroke="#000000" stroke-width="1.3"/>
<line x1="168.2" y1="498.1" x2="168.2" y2="501.4" stroke="#000000" stroke-width="1.3"/>
<path d="M60.2 498.1V490.95H74.8V498.1" fill="none" stroke="#ababab" stroke-width="2.0" stroke-linejoin="miter"/>
<line x1="67.5" y1="490.95" x2="67.5" y2="488.05" stroke="#ababab" stroke-width="1.5"/>
<line x1="63.4" y1="488.05" x2="71.6" y2="488.05" stroke="#ababab" stroke-width="1.5"/>
<circle cx="62" cy="485.65" r="2.3" fill="#ababab"/>
<circle cx="73.5" cy="485.15" r="2.3" fill="#ababab"/>
<circle cx="67.6" cy="490.45" r="2.3" fill="#ababab"/>
<circle cx="67.6" cy="498.35" r="2.3" fill="#ababab"/>
<path d="M85.2 498.1V468.25H99.8V498.1" fill="none" stroke="#3d5daa" stroke-width="2.0" stroke-linejoin="miter"/>
<line x1="92.5" y1="468.25" x2="92.5" y2="456.35" stroke="#3d5daa" stroke-width="1.5"/>
<line x1="88.4" y1="456.35" x2="96.6" y2="456.35" stroke="#3d5daa" stroke-width="1.5"/>
<rect x="84.25" y="437.9" width="4.5" height="4.5" fill="#3d5daa"/>
<rect x="96.45" y="437.3" width="4.5" height="4.5" fill="#3d5daa"/>
<rect x="84.75" y="479.8" width="4.5" height="4.5" fill="#3d5daa"/>
<rect x="84.75" y="487.5" width="4.5" height="4.5" fill="#3d5daa"/>
<rect x="96.15" y="482.9" width="4.5" height="4.5" fill="#3d5daa"/>
<path d="M110.7 498.1V475.15H125.3V498.1" fill="none" stroke="#46a3a8" stroke-width="2.0" stroke-linejoin="miter"/>
<line x1="118" y1="475.15" x2="118" y2="465.15" stroke="#46a3a8" stroke-width="1.5"/>
<line x1="113.9" y1="465.15" x2="122.1" y2="465.15" stroke="#46a3a8" stroke-width="1.5"/>
<path d="M112 450.97L114.5 455.77L109.5 455.77Z" fill="#46a3a8"/>
<path d="M123.9 453.07L126.4 457.87L121.4 457.87Z" fill="#46a3a8"/>
<path d="M117.9 469.87L120.4 474.67L115.4 474.67Z" fill="#46a3a8"/>
<path d="M111.7 493.07L114.2 497.87L109.2 497.87Z" fill="#46a3a8"/>
<path d="M123.9 493.07L126.4 497.87L121.4 497.87Z" fill="#46a3a8"/>
<path d="M135.8 498.1V414.65H150.4V498.1" fill="none" stroke="#000000" stroke-width="2.0" stroke-linejoin="miter"/>
<line x1="143.1" y1="414.65" x2="143.1" y2="404.75" stroke="#000000" stroke-width="1.5"/>
<line x1="139" y1="404.75" x2="147.2" y2="404.75" stroke="#000000" stroke-width="1.5"/>
<path d="M143.1 399.83L145.6 395.03L140.6 395.03Z" fill="#000000"/>
<path d="M143.1 404.43L145.6 399.63L140.6 399.63Z" fill="#000000"/>
<path d="M143.1 420.83L145.6 416.03L140.6 416.03Z" fill="#000000"/>
<path d="M143.1 440.13L145.6 435.33L140.6 435.33Z" fill="#000000"/>
<path d="M161.1 498.1V424.65H175.7V498.1" fill="none" stroke="#992ba9" stroke-width="2.0" stroke-linejoin="miter"/>
<line x1="168.4" y1="424.65" x2="168.4" y2="412.95" stroke="#992ba9" stroke-width="1.5"/>
<line x1="164.3" y1="412.95" x2="172.5" y2="412.95" stroke="#992ba9" stroke-width="1.5"/>
<path d="M168.3 390.85L171.2 393.75L168.3 396.65L165.4 393.75Z" fill="#992ba9"/>
<path d="M168.3 402.75L171.2 405.65L168.3 408.55L165.4 405.65Z" fill="#992ba9"/>
<path d="M168.3 430.25L171.2 433.15L168.3 436.05L165.4 433.15Z" fill="#992ba9"/>
<path d="M162.5 438.95L165.4 441.85L162.5 444.75L159.6 441.85Z" fill="#992ba9"/>
<path d="M174.4 438.45L177.3 441.35L174.4 444.25L171.5 441.35Z" fill="#992ba9"/>
<line x1="92" y1="380.4" x2="141.8" y2="380.4" stroke="#000000" stroke-width="1.65"/>
<line x1="117.2" y1="376.8" x2="141.8" y2="376.8" stroke="#000000" stroke-width="1.65"/>
<line x1="92" y1="383.7" x2="165.3" y2="383.7" stroke="#000000" stroke-width="1.65"/>
<line x1="117.2" y1="387" x2="165.3" y2="387" stroke="#000000" stroke-width="1.65"/>
<polygon points="103.3,373.25 103.88,374.8 105.53,374.87 104.24,375.9 104.68,377.5 103.3,376.59 101.92,377.5 102.36,375.9 101.07,374.87 102.72,374.8" fill="#1a1a1a"/>
<polygon points="125.58,368.96 126.18,370.57 127.89,370.65 126.55,371.72 127.01,373.37 125.58,372.42 124.14,373.37 124.6,371.72 123.26,370.65 124.97,370.57" fill="#1a1a1a"/>
<polygon points="129.93,368.96 130.53,370.57 132.24,370.65 130.9,371.72 131.36,373.37 129.93,372.42 128.49,373.37 128.95,371.72 127.61,370.65 129.32,370.57" fill="#1a1a1a"/>
<polygon points="153.3,377.35 153.88,378.9 155.53,378.97 154.24,380 154.68,381.6 153.3,380.69 151.92,381.6 152.36,380 151.07,378.97 152.72,378.9" fill="#1a1a1a"/>
<text transform="translate(186.5 367.8) scale(0.96 1.06)" font-size="15" font-weight="bold">j</text>
<text transform="translate(204 437.3) rotate(-90)" x="0" y="0" font-size="10.0" font-weight="bold" text-anchor="middle" xml:space="preserve" textLength="114.4" lengthAdjust="spacingAndGlyphs">LAG3<tspan font-size="7.2" dy="-5">+</tspan><tspan dy="5">​</tspan>CD4<tspan font-size="7.2" dy="-5">+</tspan><tspan dy="5">​</tspan>T Cell (%)</text>
<line x1="223" y1="379.7" x2="226.3" y2="379.7" stroke="#000000" stroke-width="1.3"/>
<text x="221.5" y="384.4" font-size="10.0" text-anchor="end" font-weight="bold" textLength="10.6" lengthAdjust="spacingAndGlyphs">20</text>
<line x1="223" y1="409.2" x2="226.3" y2="409.2" stroke="#000000" stroke-width="1.3"/>
<text x="221.5" y="413.9" font-size="10.0" text-anchor="end" font-weight="bold" textLength="10.6" lengthAdjust="spacingAndGlyphs">15</text>
<line x1="223" y1="438.7" x2="226.3" y2="438.7" stroke="#000000" stroke-width="1.3"/>
<text x="221.5" y="443.4" font-size="10.0" text-anchor="end" font-weight="bold" textLength="10.6" lengthAdjust="spacingAndGlyphs">10</text>
<line x1="223" y1="468" x2="226.3" y2="468" stroke="#000000" stroke-width="1.3"/>
<text x="221.5" y="472.7" font-size="10.0" text-anchor="end" font-weight="bold" textLength="5.3" lengthAdjust="spacingAndGlyphs">5</text>
<line x1="223" y1="497.2" x2="226.3" y2="497.2" stroke="#000000" stroke-width="1.3"/>
<text x="221.5" y="501.9" font-size="10.0" text-anchor="end" font-weight="bold" textLength="5.3" lengthAdjust="spacingAndGlyphs">0</text>
<line x1="226.3" y1="379.1" x2="226.3" y2="497.8" stroke="#1c1c1c" stroke-width="1.4"/>
<line x1="225.6" y1="497.1" x2="336.2" y2="497.1" stroke="#1c1c1c" stroke-width="1.4"/>
<line x1="281.1" y1="497.1" x2="281.1" y2="500.4" stroke="#000000" stroke-width="1.3"/>
<path d="M236.1 497.1V418.95H250.7V497.1" fill="none" stroke="#3d5daa" stroke-width="2.0" stroke-linejoin="miter"/>
<line x1="243.4" y1="418.95" x2="243.4" y2="407.45" stroke="#3d5daa" stroke-width="1.5"/>
<line x1="239.3" y1="407.45" x2="247.5" y2="407.45" stroke="#3d5daa" stroke-width="1.5"/>
<circle cx="243.2" cy="391.05" r="1.79" fill="#3d5daa"/>
<circle cx="239" cy="417.75" r="1.79" fill="#3d5daa"/>
<circle cx="246.9" cy="419.15" r="1.79" fill="#3d5daa"/>
<circle cx="243" cy="444.95" r="1.79" fill="#3d5daa"/>
<path d="M261.1 497.1V442.15H275.7V497.1" fill="none" stroke="#46a3a8" stroke-width="2.0" stroke-linejoin="miter"/>
<line x1="268.4" y1="442.15" x2="268.4" y2="430.85" stroke="#46a3a8" stroke-width="1.5"/>
<line x1="264.3" y1="430.85" x2="272.5" y2="430.85" stroke="#46a3a8" stroke-width="1.5"/>
<rect x="266.64" y="412.09" width="3.5100000000000002" height="3.5100000000000002" fill="#46a3a8"/>
<rect x="266.64" y="433.5" width="3.5100000000000002" height="3.5100000000000002" fill="#46a3a8"/>
<rect x="263.25" y="456.39" width="3.5100000000000002" height="3.5100000000000002" fill="#46a3a8"/>
<rect x="270.25" y="456.39" width="3.5100000000000002" height="3.5100000000000002" fill="#46a3a8"/>
<path d="M286.5 497.1V481.65H301.1V497.1" fill="none" stroke="#000000" stroke-width="2.0" stroke-linejoin="miter"/>
<line x1="293.8" y1="481.65" x2="293.8" y2="476.35" stroke="#000000" stroke-width="1.5"/>
<line x1="289.7" y1="476.35" x2="297.9" y2="476.35" stroke="#000000" stroke-width="1.5"/>
<path d="M293.7 470.2L295.65 473.95L291.75 473.95Z" fill="#000000"/>
<path d="M293.7 480.4L295.65 484.15L291.75 484.15Z" fill="#000000"/>
<path d="M293.7 485.2L295.65 488.95L291.75 488.95Z" fill="#000000"/>
<path d="M311.6 497.1V464.05H326.2V497.1" fill="none" stroke="#992ba9" stroke-width="2.0" stroke-linejoin="miter"/>
<line x1="318.9" y1="464.05" x2="318.9" y2="457.65" stroke="#992ba9" stroke-width="1.5"/>
<line x1="314.8" y1="457.65" x2="323" y2="457.65" stroke="#992ba9" stroke-width="1.5"/>
<path d="M319.1 455.1L321.05 451.35L317.15 451.35Z" fill="#992ba9"/>
<path d="M319.1 464.2L321.05 460.45L317.15 460.45Z" fill="#992ba9"/>
<path d="M319.1 475.3L321.05 471.55L317.15 471.55Z" fill="#992ba9"/>
<line x1="241.6" y1="384.9" x2="300" y2="384.9" stroke="#000000" stroke-width="1.65"/>
<polygon points="289.18,377.8 289.76,379.35 291.41,379.42 290.11,380.45 290.56,382.05 289.18,381.14 287.79,382.05 288.24,380.45 286.94,379.42 288.59,379.35" fill="#1a1a1a"/>
<polygon points="293.12,377.8 293.71,379.35 295.36,379.42 294.06,380.45 294.51,382.05 293.12,381.14 291.74,382.05 292.19,380.45 290.89,379.42 292.54,379.35" fill="#1a1a1a"/>
<text transform="translate(354 367.8) scale(0.96 1.06)" font-size="15" font-weight="bold">k</text>
<text transform="translate(374.8 437.4) rotate(-90)" x="0" y="0" font-size="10.0" font-weight="bold" text-anchor="middle" xml:space="preserve" textLength="109.2" lengthAdjust="spacingAndGlyphs">PD-1<tspan font-size="7.2" dy="-5">+</tspan><tspan dy="5">​</tspan>CD4<tspan font-size="7.2" dy="-5">+</tspan><tspan dy="5">​</tspan>T Cell (%)</text>
<line x1="392.7" y1="379.7" x2="396" y2="379.7" stroke="#000000" stroke-width="1.3"/>
<text x="391.2" y="384.4" font-size="10.0" text-anchor="end" font-weight="bold" textLength="10.6" lengthAdjust="spacingAndGlyphs">20</text>
<line x1="392.7" y1="409.4" x2="396" y2="409.4" stroke="#000000" stroke-width="1.3"/>
<text x="391.2" y="414.1" font-size="10.0" text-anchor="end" font-weight="bold" textLength="10.6" lengthAdjust="spacingAndGlyphs">15</text>
<line x1="392.7" y1="438.5" x2="396" y2="438.5" stroke="#000000" stroke-width="1.3"/>
<text x="391.2" y="443.2" font-size="10.0" text-anchor="end" font-weight="bold" textLength="10.6" lengthAdjust="spacingAndGlyphs">10</text>
<line x1="392.7" y1="467.5" x2="396" y2="467.5" stroke="#000000" stroke-width="1.3"/>
<text x="391.2" y="472.2" font-size="10.0" text-anchor="end" font-weight="bold" textLength="5.3" lengthAdjust="spacingAndGlyphs">5</text>
<line x1="392.7" y1="496.6" x2="396" y2="496.6" stroke="#000000" stroke-width="1.3"/>
<text x="391.2" y="501.3" font-size="10.0" text-anchor="end" font-weight="bold" textLength="5.3" lengthAdjust="spacingAndGlyphs">0</text>
<line x1="396" y1="379.1" x2="396" y2="497.2" stroke="#1c1c1c" stroke-width="1.4"/>
<line x1="395.3" y1="496.5" x2="505.6" y2="496.5" stroke="#1c1c1c" stroke-width="1.4"/>
<line x1="450.9" y1="496.5" x2="450.9" y2="499.8" stroke="#000000" stroke-width="1.3"/>
<path d="M406.3 496.5V434.85H420.9V496.5" fill="none" stroke="#3d5daa" stroke-width="2.0" stroke-linejoin="miter"/>
<line x1="413.6" y1="434.85" x2="413.6" y2="424.65" stroke="#3d5daa" stroke-width="1.5"/>
<line x1="409.5" y1="424.65" x2="417.7" y2="424.65" stroke="#3d5daa" stroke-width="1.5"/>
<circle cx="413.4" cy="410.05" r="1.79" fill="#3d5daa"/>
<circle cx="413.4" cy="427.05" r="1.79" fill="#3d5daa"/>
<circle cx="413.4" cy="445.95" r="1.79" fill="#3d5daa"/>
<circle cx="413.4" cy="453.05" r="1.79" fill="#3d5daa"/>
<path d="M431 496.5V436.95H445.6V496.5" fill="none" stroke="#46a3a8" stroke-width="2.0" stroke-linejoin="miter"/>
<line x1="438.3" y1="436.95" x2="438.3" y2="424.65" stroke="#46a3a8" stroke-width="1.5"/>
<line x1="434.2" y1="424.65" x2="442.4" y2="424.65" stroke="#46a3a8" stroke-width="1.5"/>
<rect x="436.64" y="414.09" width="3.5100000000000002" height="3.5100000000000002" fill="#46a3a8"/>
<rect x="436.64" y="418.19" width="3.5100000000000002" height="3.5100000000000002" fill="#46a3a8"/>
<rect x="436.64" y="440.69" width="3.5100000000000002" height="3.5100000000000002" fill="#46a3a8"/>
<rect x="436.64" y="464.19" width="3.5100000000000002" height="3.5100000000000002" fill="#46a3a8"/>
<path d="M456.3 496.5V472.75H470.9V496.5" fill="none" stroke="#000000" stroke-width="2.0" stroke-linejoin="miter"/>
<line x1="463.6" y1="472.75" x2="463.6" y2="470.65" stroke="#000000" stroke-width="1.5"/>
<line x1="459.5" y1="470.65" x2="467.7" y2="470.65" stroke="#000000" stroke-width="1.5"/>
<path d="M463.6 466.8L465.55 470.55L461.65 470.55Z" fill="#000000"/>
<path d="M460.1 472.9L462.05 476.65L458.15 476.65Z" fill="#000000"/>
<path d="M467.1 471.9L469.05 475.65L465.15 475.65Z" fill="#000000"/>
<path d="M481.6 496.5V458.45H496.2V496.5" fill="none" stroke="#992ba9" stroke-width="2.0" stroke-linejoin="miter"/>
<line x1="488.9" y1="458.45" x2="488.9" y2="452.25" stroke="#992ba9" stroke-width="1.5"/>
<line x1="484.8" y1="452.25" x2="493" y2="452.25" stroke="#992ba9" stroke-width="1.5"/>
<path d="M488.6 451.2L490.55 447.45L486.65 447.45Z" fill="#992ba9"/>
<path d="M488.6 457L490.55 453.25L486.65 453.25Z" fill="#992ba9"/>
<path d="M488.6 469.9L490.55 466.15L486.65 466.15Z" fill="#992ba9"/>
<text transform="translate(524.1 367.8) scale(0.96 1.06)" font-size="15" font-weight="bold">l</text>
<text transform="translate(544.6 436.75) rotate(-90)" x="0" y="0" font-size="10.0" font-weight="bold" text-anchor="middle" xml:space="preserve" textLength="115.7" lengthAdjust="spacingAndGlyphs">Foxp3<tspan font-size="7.2" dy="-5">+</tspan><tspan dy="5">​</tspan>CD4<tspan font-size="7.2" dy="-5">+</tspan><tspan dy="5">​</tspan>T Cell (%)</text>
<line x1="562.7" y1="379.7" x2="566" y2="379.7" stroke="#000000" stroke-width="1.3"/>
<text x="560.7" y="384.4" font-size="10.0" text-anchor="end" font-weight="bold" textLength="10.6" lengthAdjust="spacingAndGlyphs">40</text>
<line x1="562.7" y1="409.2" x2="566" y2="409.2" stroke="#000000" stroke-width="1.3"/>
<text x="560.7" y="413.9" font-size="10.0" text-anchor="end" font-weight="bold" textLength="10.6" lengthAdjust="spacingAndGlyphs">30</text>
<line x1="562.7" y1="438.5" x2="566" y2="438.5" stroke="#000000" stroke-width="1.3"/>
<text x="560.7" y="443.2" font-size="10.0" text-anchor="end" font-weight="bold" textLength="10.6" lengthAdjust="spacingAndGlyphs">20</text>
<line x1="562.7" y1="467.8" x2="566" y2="467.8" stroke="#000000" stroke-width="1.3"/>
<text x="560.7" y="472.5" font-size="10.0" text-anchor="end" font-weight="bold" textLength="10.6" lengthAdjust="spacingAndGlyphs">10</text>
<line x1="562.7" y1="496.8" x2="566" y2="496.8" stroke="#000000" stroke-width="1.3"/>
<text x="560.7" y="501.5" font-size="10.0" text-anchor="end" font-weight="bold" textLength="5.3" lengthAdjust="spacingAndGlyphs">0</text>
<line x1="566" y1="379.1" x2="566" y2="497.3" stroke="#1c1c1c" stroke-width="1.4"/>
<line x1="565.3" y1="496.6" x2="675" y2="496.6" stroke="#1c1c1c" stroke-width="1.4"/>
<line x1="620.2" y1="496.6" x2="620.2" y2="499.9" stroke="#000000" stroke-width="1.3"/>
<path d="M575.2 496.6V422.15H589.8V496.6" fill="none" stroke="#3d5daa" stroke-width="2.0" stroke-linejoin="miter"/>
<line x1="582.5" y1="422.15" x2="582.5" y2="413.35" stroke="#3d5daa" stroke-width="1.5"/>
<line x1="578.4" y1="413.35" x2="586.6" y2="413.35" stroke="#3d5daa" stroke-width="1.5"/>
<circle cx="582.2" cy="407.25" r="1.79" fill="#3d5daa"/>
<circle cx="582.2" cy="411.25" r="1.79" fill="#3d5daa"/>
<circle cx="582.2" cy="421.95" r="1.79" fill="#3d5daa"/>
<circle cx="582.2" cy="443.55" r="1.79" fill="#3d5daa"/>
<path d="M600.3 496.6V427.05H614.9V496.6" fill="none" stroke="#46a3a8" stroke-width="2.0" stroke-linejoin="miter"/>
<line x1="607.6" y1="427.05" x2="607.6" y2="420.05" stroke="#46a3a8" stroke-width="1.5"/>
<line x1="603.5" y1="420.05" x2="611.7" y2="420.05" stroke="#46a3a8" stroke-width="1.5"/>
<rect x="602.14" y="416" width="3.5100000000000002" height="3.5100000000000002" fill="#46a3a8"/>
<rect x="609.35" y="413.89" width="3.5100000000000002" height="3.5100000000000002" fill="#46a3a8"/>
<rect x="605.85" y="424.69" width="3.5100000000000002" height="3.5100000000000002" fill="#46a3a8"/>
<rect x="605.64" y="443.59" width="3.5100000000000002" height="3.5100000000000002" fill="#46a3a8"/>
<path d="M625.2 496.6V460.55H639.8V496.6" fill="none" stroke="#000000" stroke-width="2.0" stroke-linejoin="miter"/>
<line x1="632.5" y1="460.55" x2="632.5" y2="456.35" stroke="#000000" stroke-width="1.5"/>
<line x1="628.4" y1="456.35" x2="636.6" y2="456.35" stroke="#000000" stroke-width="1.5"/>
<path d="M629.5 452.7L631.45 456.45L627.55 456.45Z" fill="#000000"/>
<path d="M636 455L637.95 458.75L634.05 458.75Z" fill="#000000"/>
<path d="M633 465L634.95 468.75L631.05 468.75Z" fill="#000000"/>
<path d="M650.6 496.6V452.65H665.2V496.6" fill="none" stroke="#992ba9" stroke-width="2.0" stroke-linejoin="miter"/>
<line x1="657.9" y1="452.65" x2="657.9" y2="447.95" stroke="#992ba9" stroke-width="1.5"/>
<line x1="653.8" y1="447.95" x2="662" y2="447.95" stroke="#992ba9" stroke-width="1.5"/>
<path d="M657.9 445.3L659.85 441.55L655.95 441.55Z" fill="#992ba9"/>
<path d="M657.9 454.6L659.85 450.85L655.95 450.85Z" fill="#992ba9"/>
<path d="M657.9 461.1L659.85 457.35L655.95 457.35Z" fill="#992ba9"/>
<line x1="581.6" y1="384.9" x2="628.4" y2="384.9" stroke="#000000" stroke-width="1.65"/>
<line x1="581.6" y1="388.4" x2="660.1" y2="388.4" stroke="#000000" stroke-width="1.65"/>
<line x1="605.3" y1="392.2" x2="628.4" y2="392.2" stroke="#000000" stroke-width="1.65"/>
<polygon points="616.65,377.7 617.23,379.25 618.88,379.32 617.59,380.35 618.03,381.95 616.65,381.04 615.27,381.95 615.71,380.35 614.42,379.32 616.07,379.25" fill="#1a1a1a"/>
<polygon points="654.35,382.6 654.93,384.15 656.58,384.22 655.29,385.25 655.73,386.85 654.35,385.94 652.97,386.85 653.41,385.25 652.12,384.22 653.77,384.15" fill="#1a1a1a"/>
<polygon points="619.35,394.85 619.93,396.4 621.58,396.47 620.29,397.5 620.73,399.1 619.35,398.19 617.97,399.1 618.41,397.5 617.12,396.47 618.77,396.4" fill="#1a1a1a"/>
</svg>
</body></html>
